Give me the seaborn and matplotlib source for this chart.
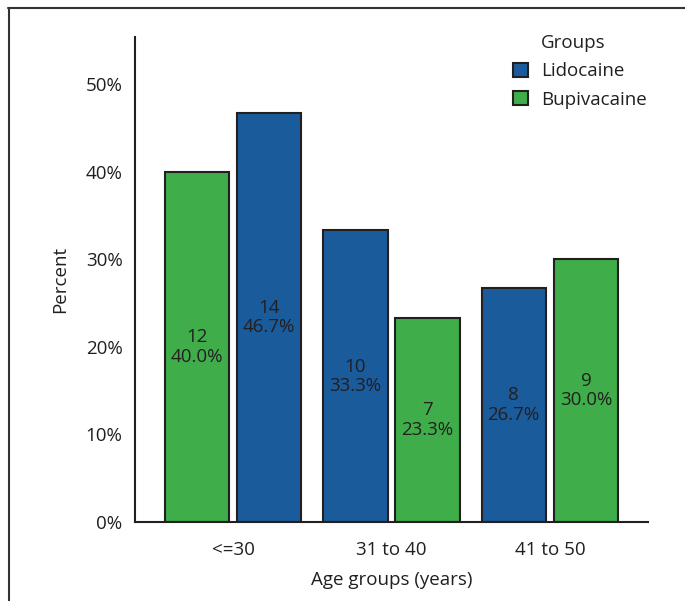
import matplotlib
matplotlib.use("Agg")
import matplotlib.pyplot as plt
import seaborn as sns
import pandas as pd
from matplotlib.patches import Patch
from matplotlib.lines import Line2D

# ---- data ----
age_groups = ["<=30", "31 to 40", "41 to 50"]
# bar order inside each age group (as in the source chart)
slot_groups = [["Bupivacaine", "Lidocaine"],
               ["Lidocaine", "Bupivacaine"],
               ["Lidocaine", "Bupivacaine"]]
lidocaine_counts = [14, 10, 8]
lidocaine_pct = [46.7, 33.3, 26.7]
bupivacaine_counts = [12, 7, 9]
bupivacaine_pct = [40.0, 23.3, 30.0]
y_ticks = [0, 10, 20, 30, 40, 50]

colors = {"Lidocaine": "#1a5b9c", "Bupivacaine": "#3fae4a"}
ink = "#231f20"
FS = 13.5

rows = []
for i, age in enumerate(age_groups):
    for s, g in enumerate(slot_groups[i]):
        if g == "Lidocaine":
            c, p = lidocaine_counts[i], lidocaine_pct[i]
        else:
            c, p = bupivacaine_counts[i], bupivacaine_pct[i]
        rows.append({"age": age, "slot": s, "group": g, "count": c, "pct": p})
df = pd.DataFrame(rows)

sns.set_theme(style="white")
plt.rcParams["font.family"] = ["Open Sans", "DejaVu Sans"]

fig = plt.figure(figsize=(6.85, 6.01), dpi=100)
ax = fig.add_axes([135/685, 1-522/601, (648-135)/685, (522-37)/601])

sns.barplot(data=df, x="age", y="pct", hue="slot", order=age_groups,
            hue_order=[0, 1], dodge=True, width=0.912, gap=0.11,
            edgecolor=ink, linewidth=1.5, legend=False, ax=ax, errorbar=None)

for s, cont in enumerate(ax.containers):
    for i, bar in enumerate(cont):
        g = slot_groups[i][s]
        sub = df[(df.age == age_groups[i]) & (df.slot == s)].iloc[0]
        bar.set_facecolor(colors[g])
        bar.set_edgecolor(ink)
        x = bar.get_x() + bar.get_width() / 2
        y = bar.get_height() / 2
        ax.text(x, y, f"{sub['count']}\n{sub['pct']:.1f}%", ha="center",
                va="center", fontsize=FS, color=ink, linespacing=1.1)

ax.set_xlim(-0.62, 2.62)
ax.set_ylim(0, 55.4)
ax.set_yticks(y_ticks)
ax.set_yticklabels([f"{t}%" for t in y_ticks])
ax.tick_params(axis="both", direction="out", length=5, width=1.5,
               color=ink, labelcolor=ink, labelsize=FS, pad=4)
ax.tick_params(axis="x", pad=9)
sns.despine(ax=ax)
for sp in ["left", "bottom"]:
    ax.spines[sp].set_color(ink)
    ax.spines[sp].set_linewidth(1.5)
ax.set_xlabel("Age groups (years)", fontsize=FS, color=ink, labelpad=8)
ax.set_ylabel("Percent", fontsize=FS, color=ink, labelpad=12)

handles = [Patch(visible=False),
           Patch(facecolor=colors["Lidocaine"], edgecolor=ink, linewidth=1.5),
           Patch(facecolor=colors["Bupivacaine"], edgecolor=ink, linewidth=1.5)]
labels = ["Groups", "Lidocaine", "Bupivacaine"]
leg = ax.legend(handles, labels, loc="upper left",
                bbox_to_anchor=(513/685, 1-34/601), bbox_transform=fig.transFigure,
                frameon=False, fontsize=FS, handlelength=0.8, handleheight=0.8,
                handletextpad=0.7, labelspacing=0.55, borderaxespad=0, borderpad=0)
for t in leg.get_texts():
    t.set_color(ink)

# figure frame (top and left)
fig.add_artist(Line2D([8/685, 1], [1-8/601, 1-8/601], transform=fig.transFigure,
                      color="#333333", linewidth=1.5))
fig.add_artist(Line2D([9/685, 9/685], [0, 1-8/601], transform=fig.transFigure,
                      color="#333333", linewidth=1.5))

fig.savefig("out.png", dpi=100)
